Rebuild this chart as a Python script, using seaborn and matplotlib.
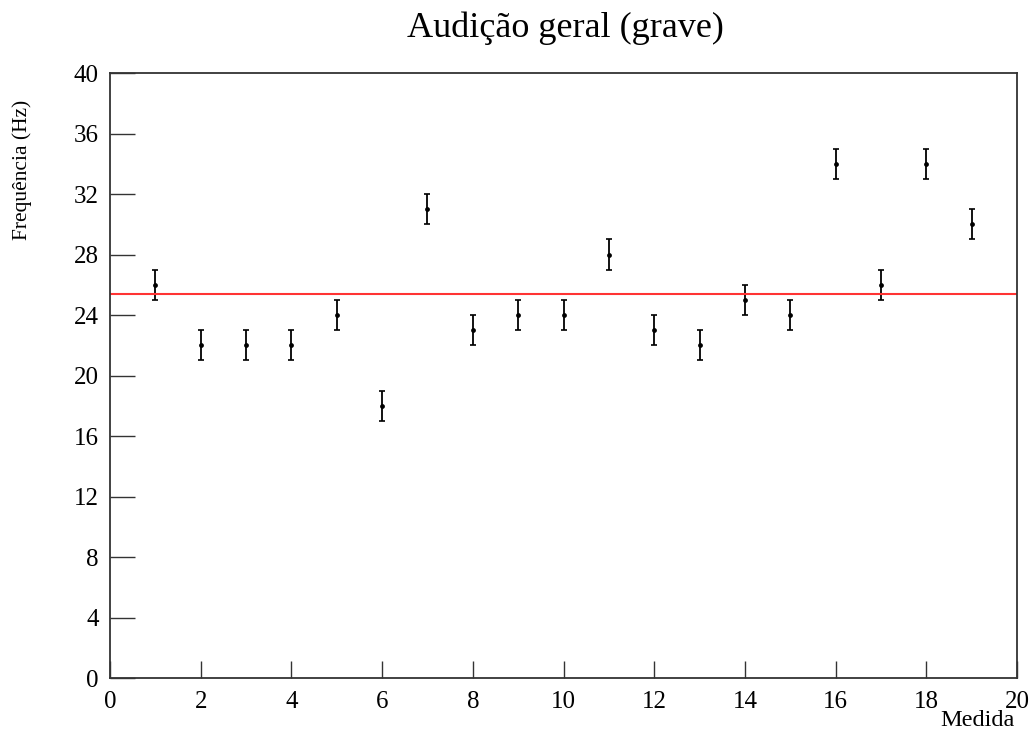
import numpy as np
import pandas as pd
import matplotlib
matplotlib.use("Agg")
import matplotlib.pyplot as plt
import seaborn as sns

medida = [1, 2, 3, 4, 5, 6, 7, 8, 9, 10, 11, 12, 13, 14, 15, 16, 17, 18, 19]
frequencia = [26, 22, 22, 22, 24, 18, 31, 23, 24, 24, 28, 23, 22, 25, 24, 34, 26, 34, 30]
erro = [1] * 19

df = pd.DataFrame({"Medida": medida, "Freq": frequencia, "Erro": erro})
media = df["Freq"].mean()

sns.set_theme(style="white")
plt.rcParams["font.family"] = ["Liberation Serif", "DejaVu Serif"]
plt.rcParams["text.color"] = "black"
plt.rcParams["xtick.labelcolor"] = "black"
plt.rcParams["ytick.labelcolor"] = "black"

fig = plt.figure(figsize=(10.33, 7.36), dpi=100)
ax = fig.add_axes([0.1065, 0.0788, 0.878, 0.822])

ax.errorbar(df["Medida"], df["Freq"], yerr=df["Erro"], fmt="none",
            ecolor="black", elinewidth=1.3, capsize=2.5, capthick=1.2)
sns.scatterplot(data=df, x="Medida", y="Freq", ax=ax, color="black",
                s=12, edgecolor="black", linewidth=0, zorder=3)
ax.axhline(media, color="#ff3333", linewidth=1.5, zorder=2)

ax.set_xlim(0, 20)
ax.set_ylim(0, 40)
ax.set_xticks(np.arange(0, 21, 2))
ax.set_yticks(np.arange(0, 41, 4))
ax.tick_params(axis="y", direction="in", length=18, width=1, left=True,
               labelsize=18, pad=8, color="#333333", labelcolor="black")
ax.tick_params(axis="x", direction="in", length=12, width=1, bottom=True,
               labelsize=18, pad=9, color="#333333", labelcolor="black")
for sp in ax.spines.values():
    sp.set_color("#333333")
    sp.set_linewidth(1.3)

ax.set_xlabel("")
ax.set_ylabel("")
fig.text(1015 / 1033, 1 - 720 / 736, "Medida", fontsize=17.5,
         ha="right", va="center", color="black")
fig.text(22 / 1033, 1 - 100 / 736, "Frequência (Hz)", fontsize=15.5,
         rotation=90, ha="center", va="top", color="black")
fig.text(565 / 1033, 1 - 28 / 736, "Audição geral (grave)", fontsize=26,
         ha="center", va="center", color="black")

fig.savefig("out.png", dpi=100)
